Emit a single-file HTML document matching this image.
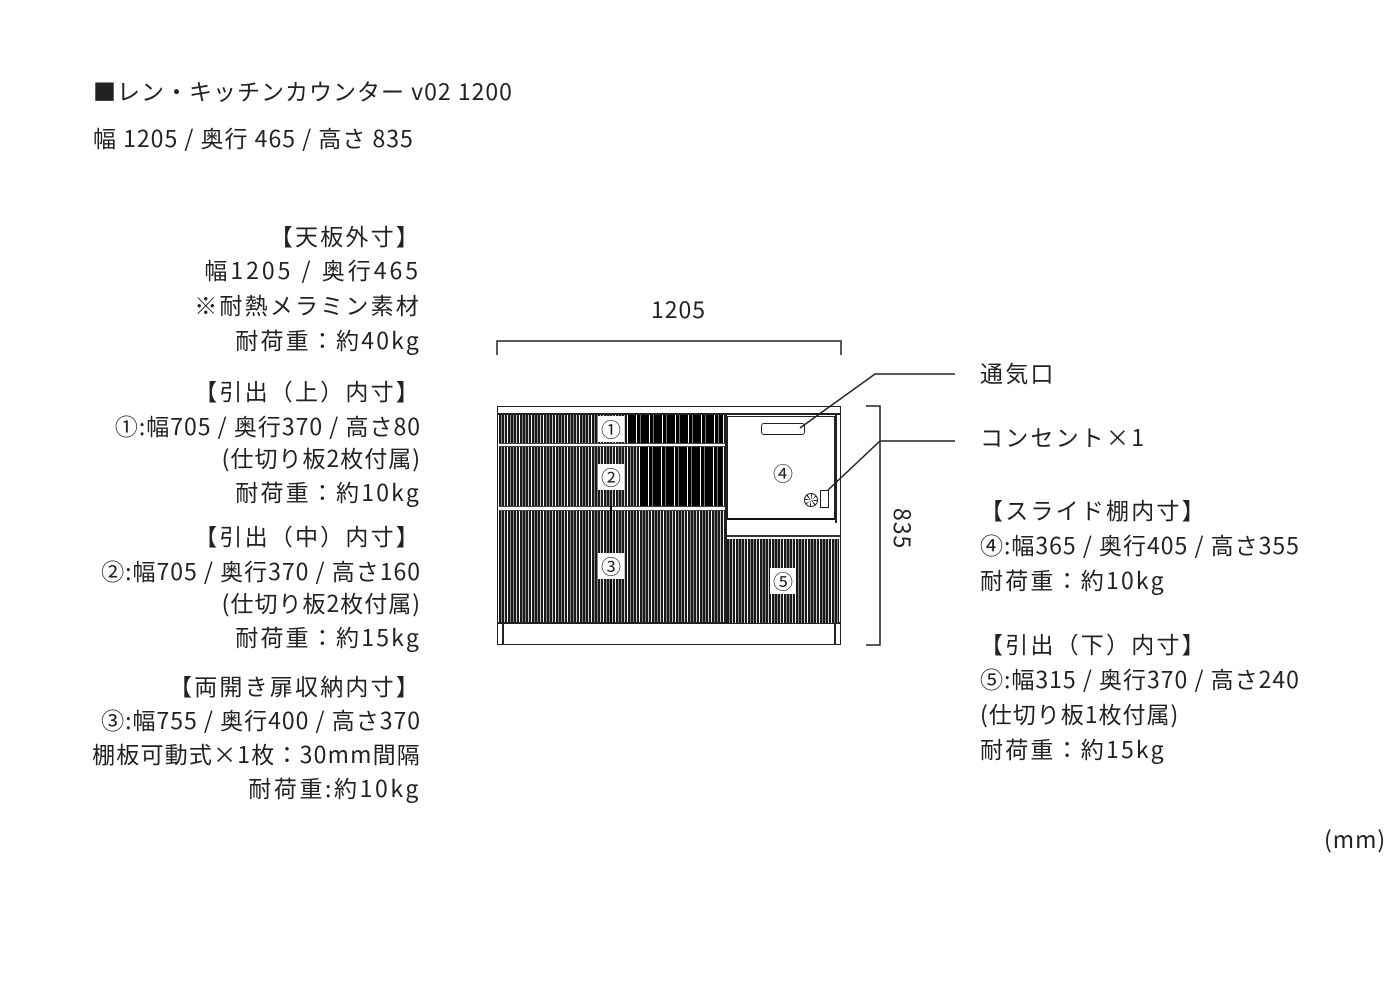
<!DOCTYPE html>
<html><head><meta charset="utf-8"><style>
body{margin:0;width:1400px;height:1000px;background:#fff;position:relative;overflow:hidden;font-family:"Noto Sans CJK JP","Liberation Sans",sans-serif;color:#222}
.t{position:absolute;font-size:23px;line-height:32px;white-space:nowrap;letter-spacing:1px}
.w{letter-spacing:2.2px}
.r{right:979px;text-align:right}
.l{left:980px}
.a{position:absolute;box-sizing:border-box}
.st{background:repeating-linear-gradient(90deg,#1a1a1a 0 2px,#888 2px 3px,#1a1a1a 3px 5px,#ccc 5px 6px,#1a1a1a 6px 8px,#fff 8px 9px,#1a1a1a 9px 11px,#888 11px 12px)}
.dk{background:repeating-linear-gradient(90deg,#000 0 8px,#fff 8px 9px,#000 9px 12px,#777 12px 13px)}
.n{position:absolute;background:#fff;font-size:20px;line-height:26px;width:26px;text-align:center}
</style></head><body>
<div class="t" style="left:93px;top:74px">■レン・キッチンカウンター v02 1200</div>
<div class="t" style="left:93px;top:121px">幅 1205 / 奥行 465 / 高さ 835</div>

<div class="t r w" style="top:219px">【天板外寸】</div>
<div class="t r w" style="top:253px;letter-spacing:3px">幅1205 / 奥行465</div>
<div class="t r w" style="top:288px">※耐熱メラミン素材</div>
<div class="t r w" style="top:323px">耐荷重：約40kg</div>
<div class="t r w" style="top:374px">【引出（上）内寸】</div>
<div class="t r" style="top:409px">①:幅705 / 奥行370 / 高さ80</div>
<div class="t r" style="top:441px">(仕切り板2枚付属)</div>
<div class="t r w" style="top:475px">耐荷重：約10kg</div>
<div class="t r w" style="top:519px">【引出（中）内寸】</div>
<div class="t r" style="top:554px">②:幅705 / 奥行370 / 高さ160</div>
<div class="t r" style="top:586px">(仕切り板2枚付属)</div>
<div class="t r w" style="top:620px">耐荷重：約15kg</div>
<div class="t r w" style="top:669px">【両開き扉収納内寸】</div>
<div class="t r" style="top:703px">③:幅755 / 奥行400 / 高さ370</div>
<div class="t r" style="top:737px;letter-spacing:1.2px">棚板可動式×1枚：30mm間隔</div>
<div class="t r" style="top:771px;letter-spacing:2.6px">耐荷重:約10kg</div>

<div class="t l w" style="top:356px">通気口</div>
<div class="t l w" style="top:420px">コンセント×1</div>
<div class="t l w" style="top:493px">【スライド棚内寸】</div>
<div class="t l" style="top:528px">④:幅365 / 奥行405 / 高さ355</div>
<div class="t l w" style="top:563px">耐荷重：約10kg</div>
<div class="t l w" style="top:627px">【引出（下）内寸】</div>
<div class="t l" style="top:662px">⑤:幅315 / 奥行370 / 高さ240</div>
<div class="t l" style="top:697px">(仕切り板1枚付属)</div>
<div class="t l w" style="top:732px">耐荷重：約15kg</div>
<div class="t" style="left:1324px;top:822px">(mm)</div>

<div class="t" style="left:651px;top:292px">1205</div>
<div class="t" style="top:508px;transform:rotate(90deg);transform-origin:left top;left:920px">835</div>

<div class="a" style="left:497px;top:406px;width:344px;height:239px;border:1.5px solid #222;background:#fff"></div>
<div class="a" style="left:497px;top:413px;width:344px;height:2px;background:#222"></div>
<div class="a st" style="left:499px;top:415px;width:226px;height:28px"></div>
<div class="a dk" style="left:628px;top:415px;width:95px;height:28px"></div>
<div class="a st" style="left:499px;top:447px;width:226px;height:59px"></div>
<div class="a dk" style="left:640px;top:447px;width:82px;height:59px"></div>
<div class="a" style="left:499px;top:443px;width:226px;height:4px;border-top:1px solid #444;border-bottom:1px solid #444"></div>
<div class="a" style="left:499px;top:506px;width:226px;height:5px;border-top:1px solid #444;border-bottom:1px solid #444"></div>
<div class="a st" style="left:499px;top:511px;width:226px;height:112px"></div>
<div class="a" style="left:610px;top:506px;width:2px;height:117px;background:#000"></div>
<div class="a" style="left:497px;top:622px;width:344px;height:2px;background:#222"></div>
<div class="a" style="left:502px;top:623px;width:1.5px;height:22px;background:#222"></div>
<div class="a" style="left:834px;top:623px;width:1.5px;height:22px;background:#222"></div>
<div class="a" style="left:725px;top:413px;width:2px;height:210px;background:#222"></div>
<div class="a" style="left:727px;top:416px;width:108px;height:104px;border:1.5px solid #222;border-bottom:2px solid #111;background:#fff"></div>
<div class="a" style="left:835px;top:413px;width:1.5px;height:110px;background:#222"></div>
<div class="a" style="left:761px;top:423px;width:44px;height:12px;border:1.5px solid #222;border-radius:3px"></div>
<div class="a" style="left:727px;top:520px;width:114px;height:17px;border-bottom:2px solid #333"></div>
<div class="a st" style="left:727px;top:539px;width:112px;height:84px"></div>
<div class="a" style="left:804px;top:493px;width:14px;height:14px;border:1.5px solid #222;border-radius:50%;background:repeating-conic-gradient(#222 0 12deg,#fff 12deg 45deg)"></div>
<div class="a" style="left:820px;top:490px;width:9px;height:18px;border:1.5px solid #222"></div>

<div class="n" style="left:598px;top:416px">①</div>
<div class="n" style="left:598px;top:464px">②</div>
<div class="n" style="left:598px;top:553px">③</div>
<div class="n" style="left:770px;top:460px">④</div>
<div class="n" style="left:770px;top:568px">⑤</div>

<svg class="a" style="left:0;top:0" width="1400" height="1000">
<g fill="none" stroke="#222" stroke-width="1.5">
<polyline points="497,355 497,341 841,341 841,355"/>
<polyline points="866,406 880,406 880,645 866,645"/>
<polyline points="800,428 875,374 955,374"/>
<polyline points="828,490 880,441 955,441"/>
</g>
</svg>
</body></html>
